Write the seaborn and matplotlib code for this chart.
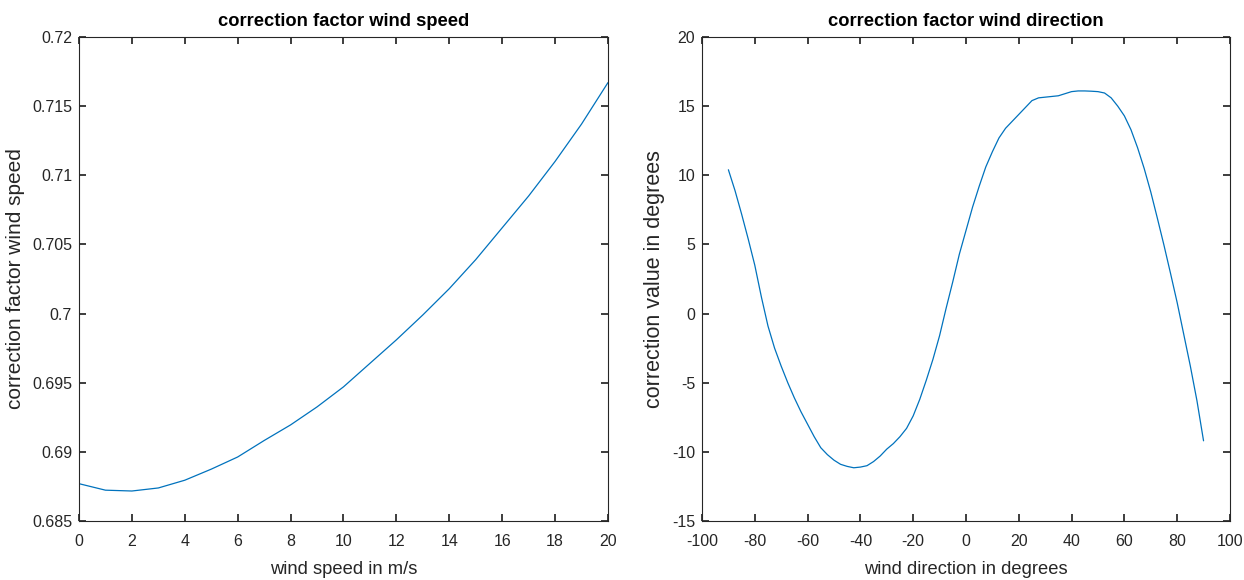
import matplotlib
matplotlib.use("Agg")
import matplotlib.pyplot as plt
import seaborn as sns
import pandas as pd

# wind speed correction factor
speed = list(range(0, 21))
speed_factor = [0.6877, 0.68723, 0.68717, 0.68739, 0.68795, 0.68875, 0.68963, 0.69082,
                0.69195, 0.69325, 0.6947, 0.6964, 0.6981, 0.6999, 0.7018, 0.7039,
                0.7062, 0.7085, 0.7110, 0.7137, 0.7167]

# wind direction correction value
direction = [-90, -87.5, -85, -82.5, -80, -77.5, -75, -72.5, -70, -67.5, -65, -62.5,
             -60, -57.5, -55, -52.5, -50, -47.5, -45, -42.5, -40, -37.5, -35, -32.5,
             -30, -27.5, -25, -22.5, -20, -17.5, -15, -12.5, -10, -7.5, -5, -2.5,
             0, 2.5, 5, 7.5, 10, 12.5, 15, 17.5, 20, 22.5, 25, 27.5, 30, 32.5, 35,
             37.5, 40, 42.5, 45, 47.5, 50, 52.5, 55, 57.5, 60, 62.5, 65, 67.5, 70,
             72.5, 75, 77.5, 80, 82.5, 85, 87.5, 90]
direction_corr = [10.4, 8.9, 7.2, 5.4, 3.5, 1.2, -0.9, -2.5, -3.8, -5.0, -6.1, -7.1,
                  -8.0, -8.9, -9.7, -10.2, -10.6, -10.9, -11.05, -11.15, -11.1, -11.0,
                  -10.7, -10.3, -9.8, -9.4, -8.9, -8.3, -7.4, -6.2, -4.8, -3.3, -1.6,
                  0.4, 2.3, 4.3, 6.0, 7.7, 9.2, 10.6, 11.7, 12.7, 13.4, 13.9, 14.4,
                  14.9, 15.4, 15.6, 15.65, 15.7, 15.75, 15.9, 16.05, 16.1, 16.1, 16.08,
                  16.05, 15.95, 15.6, 15.0, 14.3, 13.3, 12.0, 10.5, 8.8, 6.9, 4.95,
                  2.9, 0.8, -1.5, -3.8, -6.3, -9.2]

sns.set_theme(style="ticks")
plt.rcParams['font.family'] = ['Liberation Sans', 'DejaVu Sans']
ac = '#262626'
plt.rcParams.update({
    'axes.edgecolor': ac, 'axes.linewidth': 0.8,
    'axes.unicode_minus': False,
    'xtick.color': ac, 'ytick.color': ac,
    'xtick.direction': 'in', 'ytick.direction': 'in',
    'xtick.major.size': 5, 'ytick.major.size': 5,
    'xtick.top': True, 'ytick.right': True,
    'xtick.labelsize': 11.5, 'ytick.labelsize': 11.5,
})

fig = plt.figure(figsize=(12.44, 5.8), dpi=100)
ax1 = fig.add_axes([0.0635, 0.1017, 0.4252, 0.8345])
ax2 = fig.add_axes([0.5643, 0.1017, 0.4244, 0.8345])

blue = '#0072BD'
df1 = pd.DataFrame({'x': speed, 'y': speed_factor})
sns.lineplot(data=df1, x='x', y='y', ax=ax1, color=blue, linewidth=0.9)
ax1.set_xlim(0, 20)
ax1.set_ylim(0.685, 0.72)
ax1.set_xticks(range(0, 21, 2))
yt = [0.685, 0.69, 0.695, 0.7, 0.705, 0.71, 0.715, 0.72]
ax1.set_yticks(yt)
ax1.set_yticklabels(['0.685', '0.69', '0.695', '0.7', '0.705', '0.71', '0.715', '0.72'])
ax1.set_xlabel('wind speed in m/s', fontsize=13.2, color=ac, labelpad=9)
ax1.set_ylabel('correction factor wind speed', fontsize=15, color=ac, labelpad=5)
ax1.set_title('correction factor wind speed', fontsize=13.2, fontweight='bold',
              color='black', pad=8)

df2 = pd.DataFrame({'x': direction, 'y': direction_corr})
sns.lineplot(data=df2, x='x', y='y', ax=ax2, color=blue, linewidth=0.9)
ax2.set_xlim(-100, 100)
ax2.set_ylim(-15, 20)
ax2.set_xticks(range(-100, 101, 20))
ax2.set_yticks(range(-15, 21, 5))
ax2.set_xlabel('wind direction in degrees', fontsize=13.2, color=ac, labelpad=9)
ax2.set_ylabel('correction value in degrees', fontsize=15.5, color=ac, labelpad=5)
ax2.set_title('correction factor wind direction', fontsize=13.2, fontweight='bold',
              color='black', pad=8)

for ax in (ax1, ax2):
    for s in ax.spines.values():
        s.set_visible(True)
    ax.tick_params(axis='y', which='both', pad=5)
    ax.tick_params(axis='x', which='both', pad=9)

fig.savefig('out.png', dpi=100, facecolor='white')
